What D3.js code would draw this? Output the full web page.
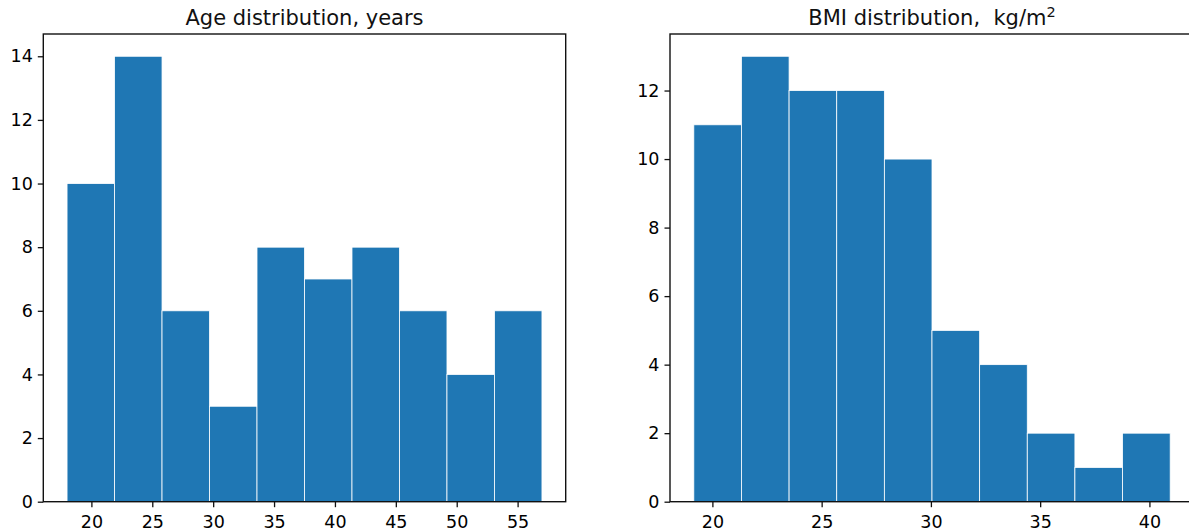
<!DOCTYPE html>
<html>
<head>
<meta charset="utf-8">
<script src="https://cdn.jsdelivr.net/npm/d3@7"></script>
<style>
  html, body { margin: 0; padding: 0; background: #fff; }
  svg { display: block; font-family: "DejaVu Sans", sans-serif; }
  .tick text { fill: #000; }
</style>
</head>
<body>
<svg id="chart" width="1189" height="532"></svg>
<script>
// ---- data ----
const ageEdges = [18, 21.9, 25.8, 29.7, 33.6, 37.5, 41.4, 45.3, 49.2, 53.1, 57];
const ageCounts = [10, 14, 6, 3, 8, 7, 8, 6, 4, 6];
const ageXTicks = [20, 25, 30, 35, 40, 45, 50, 55];
const ageYTicks = [0, 2, 4, 6, 8, 10, 12, 14];

const bmiEdges = [19.15, 21.33, 23.51, 25.69, 27.87, 30.05, 32.23, 34.41, 36.59, 38.77, 40.95];
const bmiCounts = [11, 13, 12, 12, 10, 5, 4, 2, 1, 2];
const bmiXTicks = [20, 25, 30, 35, 40];
const bmiYTicks = [0, 2, 4, 6, 8, 10, 12];

const svg = d3.select("#chart");
const plotTop = 34, plotBottom = 501.7;

function drawHist(opts) {
  const { edges, counts, xTicks, yTicks, left, right, title } = opts;
  const lo = edges[0], hi = edges[edges.length - 1];
  const pad = (hi - lo) * 0.05;
  const maxC = d3.max(counts);
  const x = d3.scaleLinear().domain([lo - pad, hi + pad]).range([left, right]);
  const y = d3.scaleLinear().domain([0, maxC * 1.05]).range([plotBottom, plotTop]);

  const g = svg.append("g");
  const bins = counts.map((c, i) => ({ x0: edges[i], x1: edges[i + 1], c }));
  g.selectAll("rect.bar").data(bins).enter().append("rect")
    .attr("class", "bar")
    .attr("x", d => x(d.x0))
    .attr("width", d => x(d.x1) - x(d.x0))
    .attr("y", d => y(d.c))
    .attr("height", d => y(0) - y(d.c))
    .attr("fill", "#1f77b4")
    .attr("stroke", "#ffffff")
    .attr("stroke-width", 0.8);

  // frame
  g.append("rect")
    .attr("x", left).attr("y", plotTop)
    .attr("width", right - left).attr("height", plotBottom - plotTop)
    .attr("fill", "none").attr("stroke", "#111").attr("stroke-width", 1.4);

  const xAxis = d3.axisBottom(x).tickValues(xTicks).tickSize(5.5).tickPadding(5).tickFormat(d3.format("d"));
  const gx = g.append("g").attr("transform", `translate(0,${plotBottom})`).call(xAxis);
  const yAxis = d3.axisLeft(y).tickValues(yTicks).tickSize(5.5).tickPadding(5).tickFormat(d3.format("d"));
  const gy = g.append("g").attr("transform", `translate(${left},0)`).call(yAxis);
  [gx, gy].forEach(a => {
    a.select(".domain").remove();
    a.selectAll(".tick line").attr("stroke", "#111").attr("stroke-width", 1.3);
    a.selectAll(".tick text").attr("font-family", "DejaVu Sans").style("font-size", "17.5px").attr("fill", "#111");
  });
  gx.selectAll(".tick text").attr("dy", "0.9em");

  const t = g.append("text")
    .attr("x", (left + right) / 2)
    .attr("y", 25)
    .attr("text-anchor", "middle")
    .style("font-size", "21px")
    .style("white-space", "pre")
    .attr("fill", "#111");
  title(t);
}

drawHist({
  edges: ageEdges, counts: ageCounts, xTicks: ageXTicks, yTicks: ageYTicks,
  left: 43.3, right: 565.7,
  title: t => t.text("Age distribution, years")
});

drawHist({
  edges: bmiEdges, counts: bmiCounts, xTicks: bmiXTicks, yTicks: bmiYTicks,
  left: 670, right: 1194,
  title: t => {
    t.append("tspan").text("BMI distribution,  kg/m");
    t.append("tspan").text("2").style("font-size", "14.5px").attr("dy", "-8");
  }
});
</script>
</body>
</html>
